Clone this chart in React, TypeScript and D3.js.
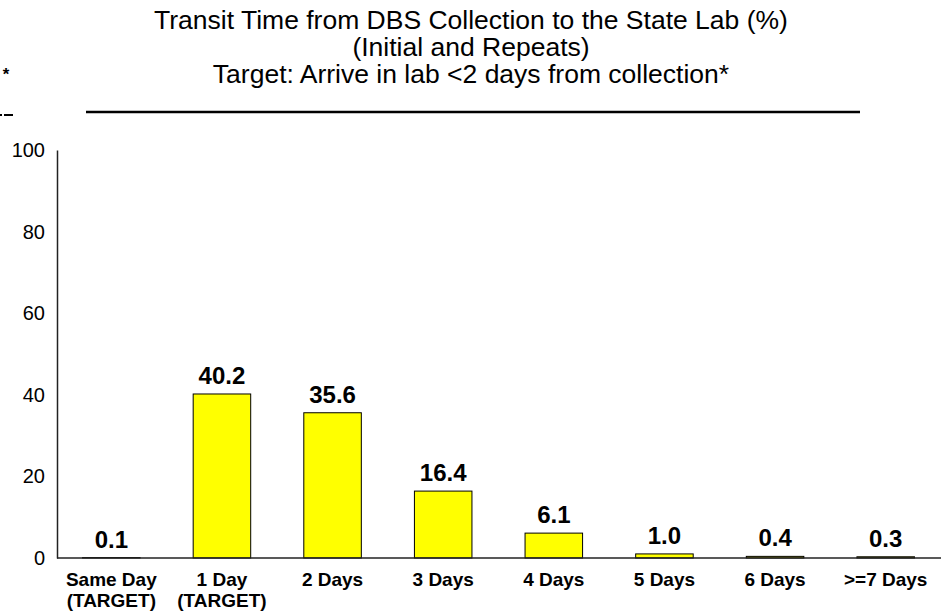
import { scaleBand, scaleLinear, select, axisLeft } from "d3"
import { useEffect, useRef } from "react"

const categories = ["Same Day|(TARGET)", "1 Day|(TARGET)", "2 Days", "3 Days", "4 Days", "5 Days", "6 Days", ">=7 Days"]
const values = [0.1, 40.2, 35.6, 16.4, 6.1, 1.0, 0.4, 0.3]
const yTicks = [0, 20, 40, 60, 80, 100]
const titleLines = [
    "Transit Time from DBS Collection to the State Lab (%)",
    "(Initial and Repeats)",
    "Target: Arrive in lab <2 days from collection*",
]

const App = () => {
    const ref = useRef<SVGSVGElement>(null)

    useEffect(() => {
        const svg = select(ref.current)
        svg.selectAll("*").remove()

        const left = 57, right = 941, top = 150, bottom = 558
        const ff = "Arial, 'Liberation Sans', sans-serif"

        const x = scaleBand().domain(categories).range([left - 1, right]).paddingInner(0.48).paddingOuter(0.24)
        const y = scaleLinear().domain([0, 100]).range([bottom, top])

        // title
        svg.append("g").selectAll("text")
            .data(titleLines)
            .join("text")
            .attr("x", 471)
            .attr("y", (d, i) => 29 + i * 27)
            .attr("text-anchor", "middle")
            .style("font", `26.5px ${ff}`)
            .text(d => d)
        svg.append("line").attr("x1", 86).attr("x2", 860).attr("y1", 112).attr("y2", 112)
            .attr("stroke", "#000").attr("stroke-width", 2.5)

        // stray fragments at left edge
        svg.append("text").attr("x", 2).attr("y", 80)
            .style("font", `bold 17px ${ff}`).style("font-style", "italic").text("*")
        svg.append("line").attr("x1", 0).attr("x2", 2).attr("y1", 115).attr("y2", 115).attr("stroke", "#000").attr("stroke-width", 2)
        svg.append("line").attr("x1", 4).attr("x2", 13).attr("y1", 115).attr("y2", 115).attr("stroke", "#000").attr("stroke-width", 2)

        // y axis
        const ya = svg.append("g").attr("transform", `translate(${left},0)`)
            .call(axisLeft(y).tickValues(yTicks).tickSize(0).tickPadding(12))
        ya.select(".domain").attr("stroke", "#222").attr("stroke-width", 1.5)
        ya.selectAll("text").style("font", `20px ${ff}`).attr("fill", "#000")

        // bars
        svg.append("g").selectAll("rect")
            .data(values)
            .join("rect")
            .attr("x", (d, i) => x(categories[i]))
            .attr("width", x.bandwidth())
            .attr("y", d => y(d))
            .attr("height", d => y(0) - y(d))
            .attr("fill", "#ffff00")
            .attr("stroke", "#000")
            .attr("stroke-width", 1)

        // x axis line
        svg.append("line").attr("x1", left).attr("x2", right).attr("y1", bottom).attr("y2", bottom)
            .attr("stroke", "#222").attr("stroke-width", 1.5)

        // value labels
        svg.append("g").selectAll("text")
            .data(values)
            .join("text")
            .attr("x", (d, i) => x(categories[i]) + x.bandwidth() / 2)
            .attr("y", d => y(d) - 10)
            .attr("text-anchor", "middle")
            .style("font", `bold 24px ${ff}`)
            .text(d => d.toFixed(1))

        // category labels
        const cats = svg.append("g").selectAll("text")
            .data(categories)
            .join("text")
            .attr("x", d => x(d) + x.bandwidth() / 2)
            .attr("y", 586)
            .attr("text-anchor", "middle")
            .style("font", `bold 19px ${ff}`)
        cats.selectAll("tspan")
            .data(d => d.split("|"))
            .join("tspan")
            .attr("x", function () { return select(this.parentNode as SVGTextElement).attr("x") })
            .attr("dy", (d, i) => i === 0 ? 0 : 21)
            .text(d => d)
    }, [])

    return (
        <svg ref={ref} width={944} height={615} style={{ position: "absolute", left: 0, top: 0, background: "#fff" }} />
    )
}

export default App
